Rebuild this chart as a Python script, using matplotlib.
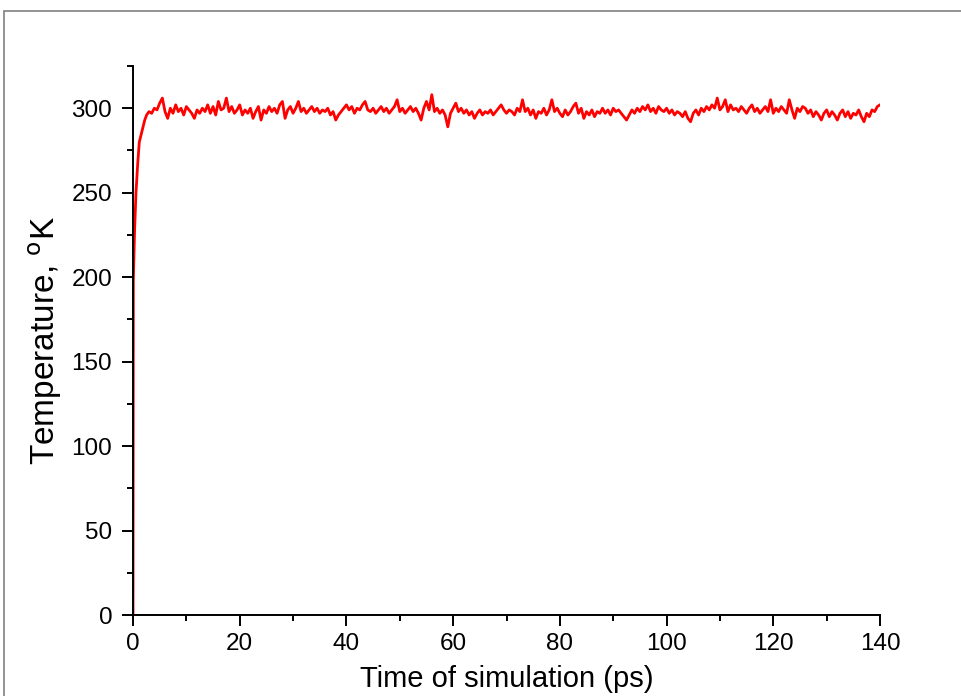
import numpy as np
import matplotlib
matplotlib.use("Agg")
import matplotlib.pyplot as plt
from matplotlib.patches import Rectangle

plt.rcParams['font.family'] = ['Liberation Sans', 'DejaVu Sans']

# heating phase (ps, K)
t_rise = [0.0, 0.02, 0.06, 0.3, 0.56, 0.9, 1.18, 1.5, 1.8, 2.2, 2.55]
T_rise = [0, 100, 198, 228, 250, 268, 280, 284, 288, 293, 296]

# equilibrated phase, sampled every 0.5 ps from 3 to 140 ps
t_eq = np.arange(3.0, 140.25, 0.5)
T_eq = [
    298, 297, 300, 299, 303, 306, 298, 294, 300, 297,
    302, 298, 300, 296, 301, 299, 297, 294, 299, 297,
    300, 298, 302, 297, 301, 296, 304, 299, 300, 306,
    298, 301, 297, 299, 302, 296, 299, 297, 300, 294,
    298, 301, 293, 299, 297, 301, 298, 300, 297, 302,
    304, 294, 299, 301, 297, 300, 304, 298, 300, 297,
    299, 301, 298, 300, 297, 299, 298, 300, 296, 298,
    293, 296, 298, 300, 302, 299, 301, 297, 300, 299,
    302, 304, 299, 298, 300, 297, 299, 301, 298, 300,
    297, 299, 301, 305, 298, 300, 297, 299, 301, 298,
    300, 297, 293, 300, 304, 299, 308, 298, 300, 297,
    299, 296, 289, 297, 300, 303, 298, 300, 297, 299,
    296, 298, 294, 297, 299, 296, 298, 297, 299, 296,
    298, 300, 302, 299, 297, 299, 298, 296, 300, 298,
    305, 298, 300, 296, 299, 294, 298, 297, 300, 296,
    299, 305, 298, 300, 297, 295, 299, 296, 298, 301,
    303, 297, 300, 294, 298, 296, 299, 295, 298, 297,
    300, 297, 299, 296, 300, 298, 299, 297, 295, 293,
    296, 299, 297, 300, 298, 301, 299, 302, 298, 300,
    297, 301, 299, 298, 300, 297, 299, 296, 298, 297,
    295, 298, 294, 292, 297, 299, 296, 300, 298, 301,
    299, 302, 300, 306, 299, 301, 305, 298, 302, 299,
    300, 298, 301, 299, 297, 300, 302, 298, 300, 297,
    299, 301, 298, 305, 297, 300, 298, 301, 299, 297,
    305, 299, 294, 300, 298, 301, 300, 297, 299, 295,
    298, 296, 293, 297, 299, 295, 298, 296, 293, 297,
    299, 295, 298, 294, 297, 296, 299, 295, 292, 297,
    295, 299, 298, 301, 302,
]

t = np.concatenate([t_rise, t_eq])
T = np.concatenate([T_rise, T_eq])

fig = plt.figure(figsize=(9.61, 6.96), dpi=100)
ax = fig.add_axes([133 / 961, 81 / 696, 747 / 961, 549 / 696])

ax.plot(t, T, color='#ff0000', lw=2.0)

ax.set_xlim(0, 140)
ax.set_ylim(0, 325)
ax.set_xticks(np.arange(0, 141, 20))
ax.set_xticks(np.arange(0, 141, 10), minor=True)
ax.set_yticks(np.arange(0, 301, 50))
ax.set_yticks(np.arange(0, 326, 25), minor=True)

for s in ['top', 'right']:
    ax.spines[s].set_visible(False)
for s in ['left', 'bottom']:
    ax.spines[s].set_linewidth(1.4)

ax.tick_params(which='major', direction='out', length=8, width=1.4,
               labelsize=17.5, pad=5)
ax.tick_params(axis='y', which='major', pad=7)
ax.tick_params(which='minor', direction='out', length=4.5, width=1.4)

ax.set_xlabel('Time of simulation (ps)', fontsize=21, labelpad=7)
ax.set_ylabel('Temperature, $^{\\mathrm{o}}$K', fontsize=24, labelpad=5)

# grey frame around the figure
fig.patches.append(Rectangle((4 / 961, -0.05), 1.2, 1.05 - 10.5 / 696,
                             transform=fig.transFigure, fill=False,
                             edgecolor='#808080', lw=1.2))

fig.savefig('out.png', dpi=100)
